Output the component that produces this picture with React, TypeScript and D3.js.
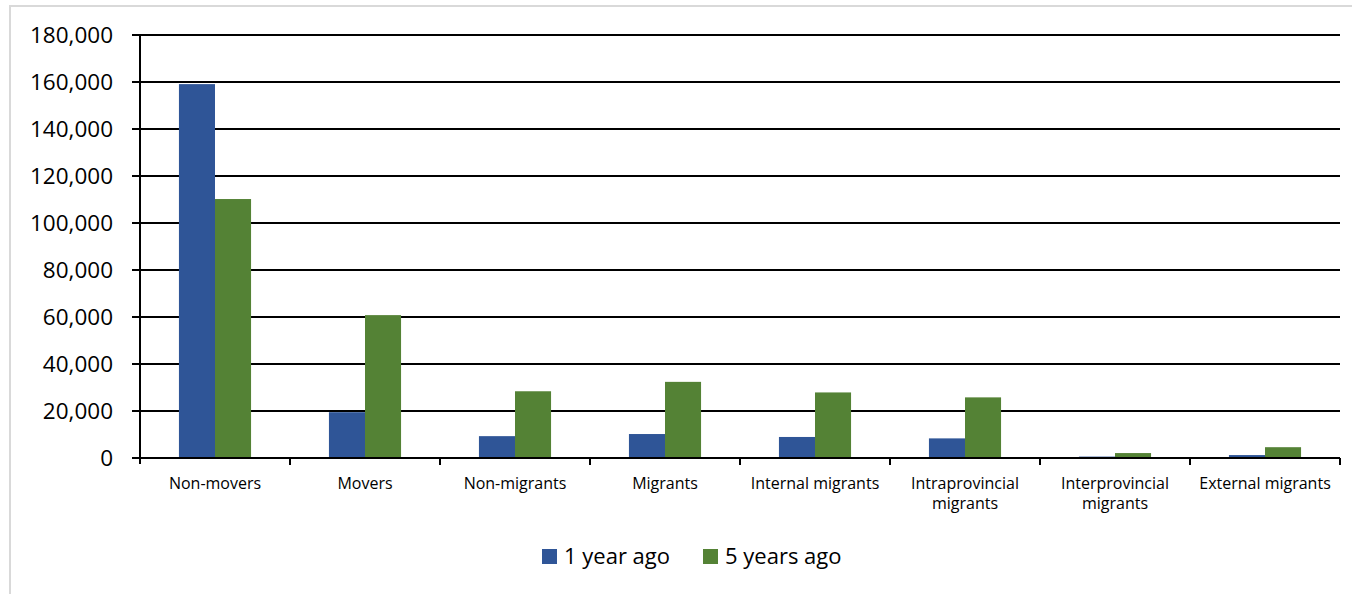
import React from "react";
import * as d3 from "d3";

const categories: string[][] = [
  ["Non-movers"],
  ["Movers"],
  ["Non-migrants"],
  ["Migrants"],
  ["Internal migrants"],
  ["Intraprovincial", "migrants"],
  ["Interprovincial", "migrants"],
  ["External migrants"],
];
const seriesNames = ["1 year ago", "5 years ago"];
const oneYearAgo = [159100, 19500, 9300, 10200, 8950, 8350, 600, 1250];
const fiveYearsAgo = [110200, 60800, 28400, 32400, 27900, 25800, 2100, 4600];
const yTicks = [0, 20000, 40000, 60000, 80000, 100000, 120000, 140000, 160000, 180000];
const colors = ["#2f5597", "#548235"];

const W = 1352;
const H = 594;
const FONT = "'Open Sans', 'Noto Sans', sans-serif";

export default function App() {
  const left = 140;
  const right = 1340;
  const top = 35;
  const bottom = 458;

  const x = d3
    .scaleBand<number>()
    .domain(categories.map((_, i) => i))
    .range([left, right])
    .paddingInner(0)
    .paddingOuter(0);
  const inner = d3
    .scaleBand<number>()
    .domain([0, 1])
    .range([0, x.bandwidth()])
    .paddingInner(0)
    .paddingOuter(1.08);
  const y = d3.scaleLinear().domain([0, 180000]).range([bottom, top]);
  const fmt = d3.format(",");
  const series = [oneYearAgo, fiveYearsAgo];

  return (
    <svg
      width={W}
      height={H}
      style={{ position: "absolute", left: 0, top: 0, background: "#fff" }}
      fontFamily={FONT}
    >
      <rect x={10} y={6} width={W} height={H} fill="#fff" stroke="#d9d9d9" strokeWidth={2} />

      {/* gridlines */}
      {yTicks.map((t) => (
        <line key={"g" + t} x1={left - 8} x2={right} y1={y(t)} y2={y(t)} stroke="#000" strokeWidth={2} />
      ))}
      {/* y labels */}
      {yTicks.map((t) => (
        <text
          key={"l" + t}
          x={113}
          y={y(t)}
          dy="0.35em"
          textAnchor="end"
          fontSize={22.5}
          fill="#000"
        >
          {fmt(t)}
        </text>
      ))}

      {/* bars */}
      {series.map((vals, s) =>
        vals.map((v, i) => (
          <rect
            key={`b${s}-${i}`}
            x={(x(i) as number) + (inner(s) as number)}
            y={y(v)}
            width={inner.bandwidth()}
            height={bottom - y(v)}
            fill={colors[s]}
          />
        ))
      )}

      {/* axes */}
      <line x1={left} x2={left} y1={top} y2={bottom + 6} stroke="#000" strokeWidth={2} />
      <line x1={left} x2={right} y1={bottom} y2={bottom} stroke="#000" strokeWidth={2} />
      {categories.map((_, i) => (
        <line
          key={"t" + i}
          x1={(x(i) as number) + x.bandwidth()}
          x2={(x(i) as number) + x.bandwidth()}
          y1={bottom}
          y2={bottom + 7}
          stroke="#000"
          strokeWidth={2}
        />
      ))}

      {/* category labels */}
      {categories.map((lines, i) => (
        <text
          key={"c" + i}
          x={(x(i) as number) + x.bandwidth() / 2}
          y={489}
          textAnchor="middle"
          fontSize={16}
          fill="#000"
        >
          {lines.map((ln, k) => (
            <tspan key={k} x={(x(i) as number) + x.bandwidth() / 2} dy={k === 0 ? 0 : 20}>
              {ln}
            </tspan>
          ))}
        </text>
      ))}

      {/* legend */}
      <g>
        <rect x={542} y={549} width={15} height={15} fill={colors[0]} />
        <text x={564} y={564} fontSize={22} fill="#000">
          {seriesNames[0]}
        </text>
        <rect x={703} y={549} width={15} height={15} fill={colors[1]} />
        <text x={725} y={564} fontSize={22} fill="#000">
          {seriesNames[1]}
        </text>
      </g>
    </svg>
  );
}
